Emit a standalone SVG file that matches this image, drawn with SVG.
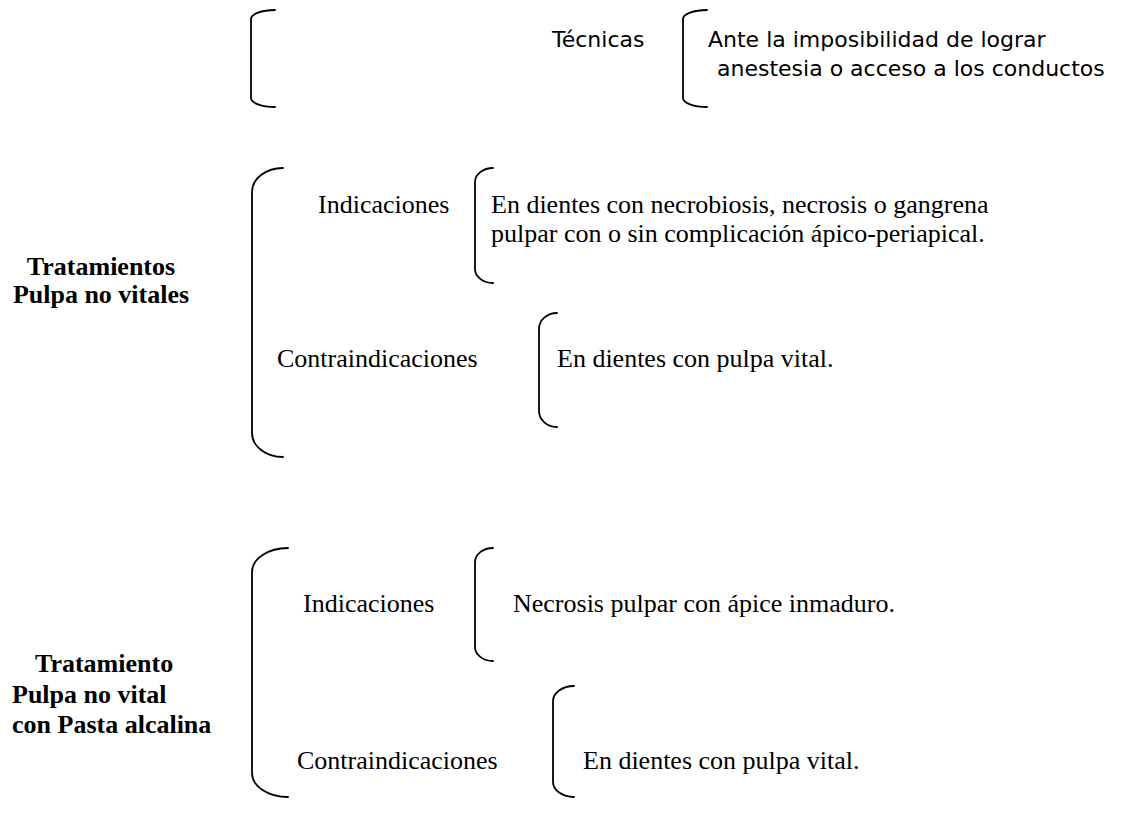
<svg xmlns="http://www.w3.org/2000/svg" width="1137" height="823" viewBox="0 0 1137 823">
<style>
.br{fill:none;stroke:#000;stroke-width:1.8;stroke-linecap:round}
.sans{font-family:"DejaVu Sans","Liberation Sans",sans-serif;font-size:22px;fill:#000}
.serif{font-family:"Liberation Serif","Times New Roman",serif;font-size:26px;fill:#000}
.bold{font-weight:bold}
</style>
<rect width="1137" height="823" fill="#fff"/>
<g id="connectors">
<path class="br" d="M275,10 A24,9 0 0 0 251,19 L251,98 A24,9 0 0 0 275,107"/>
<path class="br" d="M707,10 A24,9 0 0 0 683,19 L683,98 A24,9 0 0 0 707,107"/>
<path class="br" d="M283,168 A31,24 0 0 0 252,192 L252,433 A31,24 0 0 0 283,457"/>
<path class="br" d="M493,168 A18,14 0 0 0 475,182 L475,269 A18,14 0 0 0 493,283"/>
<path class="br" d="M557,313 A18,16 0 0 0 539,329 L539,411 A18,16 0 0 0 557,427"/>
<path class="br" d="M288,548 A36,24 0 0 0 252,572 L252,773 A36,24 0 0 0 288,797"/>
<path class="br" d="M493,548 A18,14 0 0 0 475,562 L475,647 A18,14 0 0 0 493,661"/>
<path class="br" d="M574,686 A21,15 0 0 0 553,701 L553,782 A21,15 0 0 0 574,797"/>
</g>
<g id="tecnicas"><text class="sans" x="552" y="47">Técnicas</text></g>
<g id="tecnicas-desc"><text class="sans" x="708" y="47">Ante la imposibilidad de lograr</text><text class="sans" x="717" y="76">anestesia o acceso a los conductos</text></g>
<g id="tratamientos-title"><text class="serif bold" x="101" y="275" text-anchor="middle">Tratamientos</text><text class="serif bold" x="101" y="303" text-anchor="middle">Pulpa no vitales</text></g>
<g id="indicaciones-1"><text class="serif" x="318" y="213">Indicaciones</text></g>
<g id="indicaciones-1-desc"><text class="serif" x="491" y="213">En dientes con necrobiosis, necrosis o gangrena</text><text class="serif" x="491" y="242">pulpar con o sin complicación ápico-periapical.</text></g>
<g id="contraindicaciones-1"><text class="serif" x="277" y="367">Contraindicaciones</text></g>
<g id="contraindicaciones-1-desc"><text class="serif" x="557" y="367">En dientes con pulpa vital.</text></g>
<g id="tratamiento-title"><text class="serif bold" x="35" y="672">Tratamiento</text><text class="serif bold" x="12" y="703">Pulpa no vital</text><text class="serif bold" x="12" y="733">con Pasta alcalina</text></g>
<g id="indicaciones-2"><text class="serif" x="303" y="612">Indicaciones</text></g>
<g id="indicaciones-2-desc"><text class="serif" x="513" y="612">Necrosis pulpar con ápice inmaduro.</text></g>
<g id="contraindicaciones-2"><text class="serif" x="297" y="769">Contraindicaciones</text></g>
<g id="contraindicaciones-2-desc"><text class="serif" x="583" y="769">En dientes con pulpa vital.</text></g>
</svg>
